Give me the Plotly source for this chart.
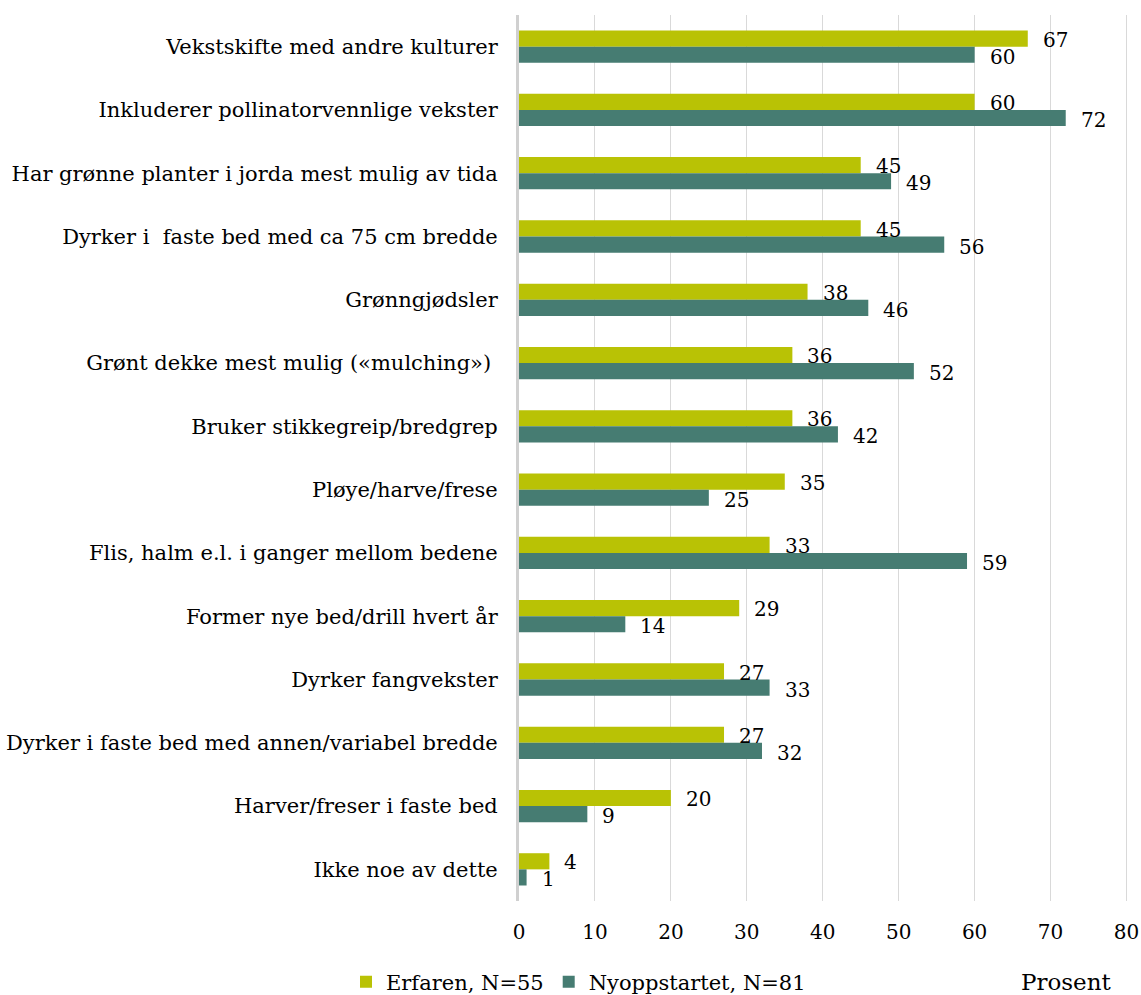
import plotly.graph_objects as go

categories = [
    "Vekstskifte med andre kulturer",
    "Inkluderer pollinatorvennlige vekster",
    "Har grønne planter i jorda mest mulig av tida",
    "Dyrker i  faste bed med ca 75 cm bredde",
    "Grønngjødsler",
    "Grønt dekke mest mulig («mulching») ",
    "Bruker stikkegreip/bredgrep",
    "Pløye/harve/frese",
    "Flis, halm e.l. i ganger mellom bedene",
    "Former nye bed/drill hvert år",
    "Dyrker fangvekster",
    "Dyrker i faste bed med annen/variabel bredde",
    "Harver/freser i faste bed",
    "Ikke noe av dette",
]
erfaren = [67, 60, 45, 45, 38, 36, 36, 35, 33, 29, 27, 27, 20, 4]
nyoppstartet = [60, 72, 49, 56, 46, 52, 42, 25, 59, 14, 33, 32, 9, 1]
series_names = ["Erfaren, N=55", "Nyoppstartet, N=81"]
tick_values = [0, 10, 20, 30, 40, 50, 60, 70, 80]

FONT = "DejaVu Serif"
C_ERF = "#b9c205"
C_NY = "#467c72"

W, H = 1141, 995
L, R, T, B = 519, 13, 15, 94
pw, ph = W - L - R, H - T - B

fig = go.Figure()
fig.add_trace(go.Bar(y=categories, x=erfaren, orientation="h", name=series_names[0],
                     marker=dict(color=C_ERF, line=dict(width=0))))
fig.add_trace(go.Bar(y=categories, x=nyoppstartet, orientation="h", name=series_names[1],
                     marker=dict(color=C_NY, line=dict(width=0))))

# value labels just right of each bar end
annotations = []
for values, yshift in ((erfaren, 7), (nyoppstartet, -10)):
    for cat, v in zip(categories, values):
        annotations.append(dict(x=v, y=cat, xref="x", yref="y", text=str(v), showarrow=False,
                                xanchor="left", yanchor="middle", xshift=13, yshift=yshift,
                                font=dict(family=FONT, size=20, color="#000")))
# axis title in the bottom right corner
annotations.append(dict(x=(1066 - L) / pw, y=-(982 - (H - B)) / ph, xref="paper", yref="paper",
                        text="Prosent", showarrow=False, xanchor="center", yanchor="middle",
                        font=dict(family=FONT, size=23, color="#000")))

fig.update_layout(
    width=W, height=H,
    margin=dict(l=L, r=R, t=T, b=B, pad=0, autoexpand=False),
    paper_bgcolor="white", plot_bgcolor="white",
    barmode="group", bargap=0.49, bargroupgap=0,
    font=dict(family=FONT, size=21, color="#000"),
    annotations=annotations,
    showlegend=True,
    legend=dict(orientation="h", x=(346 - L) / pw, y=-(982 - (H - B)) / ph,
                xanchor="left", yanchor="middle", font=dict(family=FONT, size=21),
                itemwidth=30, tracegroupgap=0, bgcolor="rgba(0,0,0,0)"),
    xaxis=dict(range=[0, 80.2], tickvals=tick_values, showgrid=True, gridcolor="#d9d9d9",
               gridwidth=1, zeroline=False, showline=False, ticks="",
               ticklabeloverflow="allow",
               tickfont=dict(family=FONT, size=20), ticklabelstandoff=17, fixedrange=True),
    yaxis=dict(autorange="reversed", showgrid=False, showline=True, linecolor="#d0d0d0",
               linewidth=3, ticks="", ticklabelstandoff=14,
               tickfont=dict(family=FONT, size=21), fixedrange=True),
)

fig.write_html("out.html")
